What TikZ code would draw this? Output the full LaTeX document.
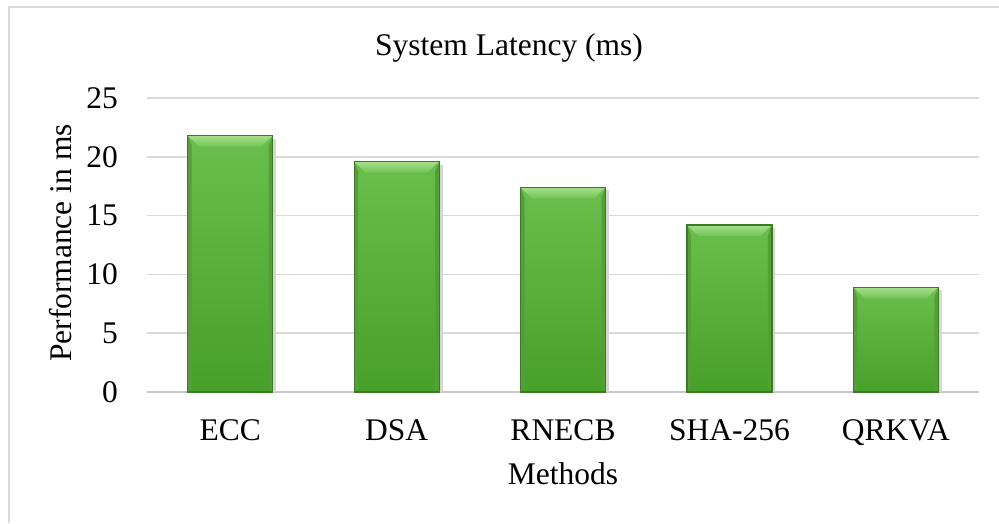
\documentclass[tikz,border=0pt]{standalone}
\usepackage{fontspec}
\setmainfont{Liberation Serif}
\usepackage{tikz}
\usetikzlibrary{positioning}
\definecolor{BarTop}{HTML}{6ABE4D}
\definecolor{BarBottom}{HTML}{47A02A}
\definecolor{BarLight}{HTML}{A6E08A}
\definecolor{BarSide}{HTML}{559E38}
\definecolor{BarEdge}{HTML}{3D7A25}
\definecolor{GridGray}{HTML}{D9D9D9}
\newcommand{\chartfont}{\fontsize{31.5}{38}\selectfont}

\begin{document}
\begin{tikzpicture}[
  x=1pt,y=1pt,
  font=\chartfont,
  gridline/.style={draw=GridGray,line width=1.6pt},
  zeroline/.style={draw=black!22,line width=1.8pt},
  ticklabel/.style={anchor=east,inner sep=0pt},
  catlabel/.style={anchor=base,inner sep=0pt},
  barbody/.style={top color=BarTop,bottom color=BarBottom},
  bevel/.style={top color=BarLight,bottom color=BarTop!85!BarLight},
  sidebevel/.style={fill=BarSide},
  shadowstrip/.style={fill=black!16}
]
\useasboundingbox (0,0) rectangle (999,523);
\fill[white] (0,0) rectangle (999,523);

% chart frame (left and top edges only)
\draw[draw=GridGray,line width=1.2pt] (9,0) -- (9,516) -- (999,516);

% title
\node[anchor=base,inner sep=0pt] (title) at (509,467) {System Latency (ms)};

% gridlines and value ticks
\foreach \v in {5,10,...,25} {
  \draw[gridline] (147,{131+11.76*\v}) -- (979,{131+11.76*\v});
}
\draw[zeroline] (147,131) -- (979,131);
\foreach \v in {0,5,...,25} {
  \node[ticklabel] (tick\v) at (118,{131+11.76*\v}) {\v};
}

% bars
\foreach \lab/\val [count=\k from 0] in {ECC/21.8,DSA/19.6,RNECB/17.4,SHA-256/14.2,QRKVA/8.9} {
  \pgfmathsetmacro\cx{230.2+166.4*\k}
  \pgfmathsetmacro\barh{131+11.76*\val}
  \fill[shadowstrip] ({\cx+42.5},131) rectangle ({\cx+46},{\barh-3});
  \shade[barbody] ({\cx-42.5},131) rectangle ({\cx+42.5},\barh);
  % side and top bevels
  \fill[sidebevel] ({\cx-42.5},{\barh}) -- ({\cx-38.5},{\barh-10})
    -- ({\cx-38.5},134) -- ({\cx-42.5},131) -- cycle;
  \fill[sidebevel] ({\cx+42.5},{\barh}) -- ({\cx+38.5},{\barh-10})
    -- ({\cx+38.5},134) -- ({\cx+42.5},131) -- cycle;
  \shade[bevel] ({\cx-42.5},{\barh}) -- ({\cx+42.5},{\barh})
    -- ({\cx+31},{\barh-11}) -- ({\cx-31},{\barh-11}) -- cycle;
  \draw[BarEdge,line width=1.2pt] ({\cx-42.5},131) rectangle ({\cx+42.5},\barh);
  \node[catlabel] (cat\k) at (\cx,83) {\lab};
}

% axis titles
\node[anchor=base,inner sep=0pt] (xlabel) at (563,39) {Methods};
\node[anchor=base,inner sep=0pt,rotate=90] (ylabel) at (71.5,280) {Performance in ms};

\end{tikzpicture}
\end{document}
